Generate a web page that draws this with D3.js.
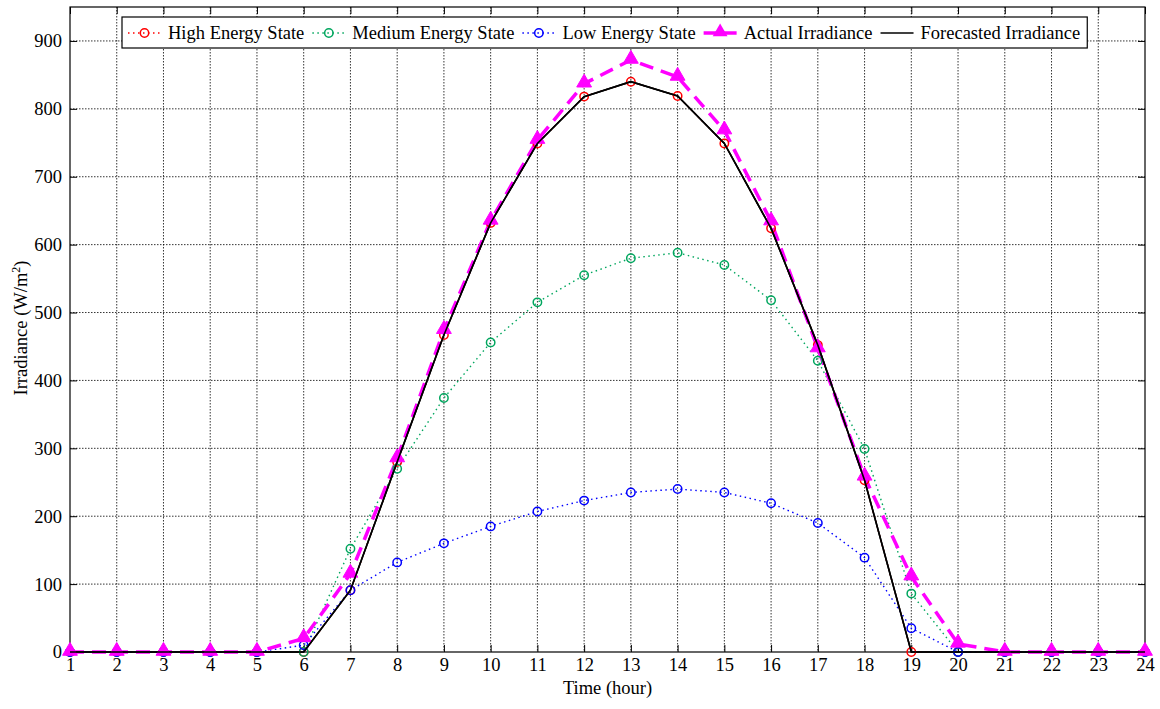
<!DOCTYPE html>
<html>
<head>
<meta charset="utf-8">
<script src="https://cdn.jsdelivr.net/npm/d3@7"></script>
<style>
  html, body { margin: 0; padding: 0; background: #fff; }
  svg { display: block; font-family: "Liberation Serif", "Times New Roman", serif; }
</style>
</head>
<body>
<svg id="chart" width="1160" height="709"></svg>
<script>
// Hourly irradiance profiles (W/m²)
const hours = d3.range(1, 25);
const highEnergy   = [0,0,0,0,0,0,91,280,467,632,749,818,840,819,749,624,452,253,0,0,0,0,0,0];
const mediumEnergy = [0,0,0,0,0,0,152,270,374,456,515,555,580,588,570,518,429,299,86,0,0,0,0,0];
const lowEnergy    = [0,0,0,0,0,10,91,132,160,185,207,223,235,240,235,219,190,139,35,0,0,0,0,0];
const actualIrr    = [0,0,0,0,0,20,115,285,474,635,754,837,872,847,768,634,447,258,111,12,0,0,0,0];
const forecastIrr  = [0,0,0,0,0,0,91,280,467,632,749,818,840,819,749,624,452,253,0,0,0,0,0,0];
const yTicks = [0,100,200,300,400,500,600,700,800,900];
const legendLabels = ["High Energy State","Medium Energy State","Low Energy State","Actual Irradiance","Forecasted Irradiance"];

const svg = d3.select("#chart");
const plotL = 70, plotR = 1145, plotT = 7, plotB = 652;

const x = d3.scaleLinear().domain([1, 24]).range([plotL, plotR]);
const y = d3.scaleLinear().domain([0, 950]).range([plotB, plotT]);

// grid
const grid = svg.append("g").attr("stroke", "#000").attr("stroke-width", 0.8).attr("stroke-dasharray", "1.5,1.5");
grid.selectAll("line.gx").data(hours.slice(1, -1)).join("line").attr("class", "gx")
  .attr("x1", d => x(d)).attr("x2", d => x(d)).attr("y1", plotT).attr("y2", plotB);
grid.selectAll("line.gy").data(yTicks.slice(1)).join("line").attr("class", "gy")
  .attr("x1", plotL).attr("x2", plotR).attr("y1", d => y(d)).attr("y2", d => y(d));

// axes with inward ticks on all four sides
const fontSize = 18.5;
const xAxis = d3.axisBottom(x).tickValues(hours).tickSize(-7).tickPadding(6).tickFormat(d3.format("d"));
const yAxis = d3.axisLeft(y).tickValues(yTicks).tickSize(-7).tickPadding(8).tickFormat(d3.format("d"));
const gx = svg.append("g").attr("transform", `translate(0,${plotB})`).call(xAxis);
const gy = svg.append("g").attr("transform", `translate(${plotL},0)`).call(yAxis);
svg.append("g").attr("transform", `translate(0,${plotT})`)
  .call(d3.axisTop(x).tickValues(hours).tickSize(-7).tickFormat(""));
svg.append("g").attr("transform", `translate(${plotR},0)`)
  .call(d3.axisRight(y).tickValues(yTicks).tickSize(-7).tickFormat(""));
svg.selectAll(".domain").remove();
svg.selectAll(".tick line").attr("stroke", "#000").attr("stroke-width", 1);
[gx, gy].forEach(g => g.selectAll("text")
  .attr("font-family", "Liberation Serif, Times New Roman, serif")
  .attr("font-size", fontSize).attr("fill", "#000"));

// plot box
svg.append("rect").attr("x", plotL).attr("y", plotT).attr("width", plotR - plotL).attr("height", plotB - plotT)
  .attr("fill", "none").attr("stroke", "#000").attr("stroke-width", 1.2);

// series
const line = d3.line().x((d, i) => x(hours[i])).y(d => y(d));
const series = [
  { data: highEnergy,   color: "#ff0000", width: 1.4, dash: "1.5,3.5", marker: "circle" },
  { data: mediumEnergy, color: "#00a65e", width: 1.4, dash: "1.5,3.5", marker: "circle" },
  { data: lowEnergy,    color: "#0000ff", width: 1.4, dash: "1.5,3.5", marker: "circle" },
  { data: actualIrr,    color: "#ff00ff", width: 3.5, dash: "14,8",    marker: "triangle" },
  { data: forecastIrr,  color: "#000000", width: 1.6, dash: null,      marker: null }
];

const tri = d3.symbol().type(d3.symbolTriangle).size(95);

series.forEach(s => {
  svg.append("path").datum(s.data).attr("d", line)
    .attr("fill", "none").attr("stroke", s.color).attr("stroke-width", s.width)
    .attr("stroke-dasharray", s.dash);
});
series.forEach(s => {
  if (s.marker === "circle") {
    svg.append("g").selectAll("circle").data(s.data).join("circle")
      .attr("cx", (d, i) => x(hours[i])).attr("cy", d => y(d)).attr("r", 4.2)
      .attr("fill", "none").attr("stroke", s.color).attr("stroke-width", 1.5);
  } else if (s.marker === "triangle") {
    svg.append("g").selectAll("path").data(s.data).join("path")
      .attr("d", tri).attr("transform", (d, i) => `translate(${x(hours[i])},${y(d) - 1})`)
      .attr("fill", s.color).attr("stroke", s.color).attr("stroke-width", 1);
  }
});
// forecast line on top
svg.append("path").datum(forecastIrr).attr("d", line)
  .attr("fill", "none").attr("stroke", "#000").attr("stroke-width", 1.6);

// axis titles
svg.append("text").attr("x", (plotL + plotR) / 2).attr("y", 694).attr("text-anchor", "middle")
  .attr("font-size", fontSize).text("Time (hour)");
const yl = svg.append("text").attr("transform", "translate(27,328) rotate(-90)")
  .attr("text-anchor", "middle").attr("font-size", fontSize);
yl.append("tspan").text("Irradiance (W/m");
yl.append("tspan").attr("dy", -7).attr("font-size", 12).text("2");
yl.append("tspan").attr("dy", 7).text(")");

// legend
const lg = svg.append("g");
const lgBox = lg.append("rect").attr("x", 122).attr("y", 17).attr("width", 971).attr("height", 31)
  .attr("fill", "#fff").attr("stroke", "#000").attr("stroke-width", 1.2);
let cx = 128;
const ly = 33;
legendLabels.forEach((lab, i) => {
  const s = series[i];
  lg.append("line").attr("x1", cx).attr("x2", cx + 33).attr("y1", ly).attr("y2", ly)
    .attr("stroke", s.color).attr("stroke-width", s.width)
    .attr("stroke-dasharray", s.marker === "triangle" ? null : s.dash);
  if (s.marker === "circle") {
    lg.append("circle").attr("cx", cx + 16.5).attr("cy", ly).attr("r", 4.2)
      .attr("fill", "none").attr("stroke", s.color).attr("stroke-width", 1.5);
  } else if (s.marker === "triangle") {
    lg.append("path").attr("d", tri).attr("transform", `translate(${cx + 16.5},${ly - 1})`)
      .attr("fill", s.color);
  }
  const t = lg.append("text").attr("x", cx + 40).attr("y", ly + 6)
    .attr("font-size", fontSize).text(lab);
  cx = cx + 40 + t.node().getComputedTextLength() + 8;
});
lgBox.attr("width", cx - 122 - 1);
</script>
</body>
</html>
